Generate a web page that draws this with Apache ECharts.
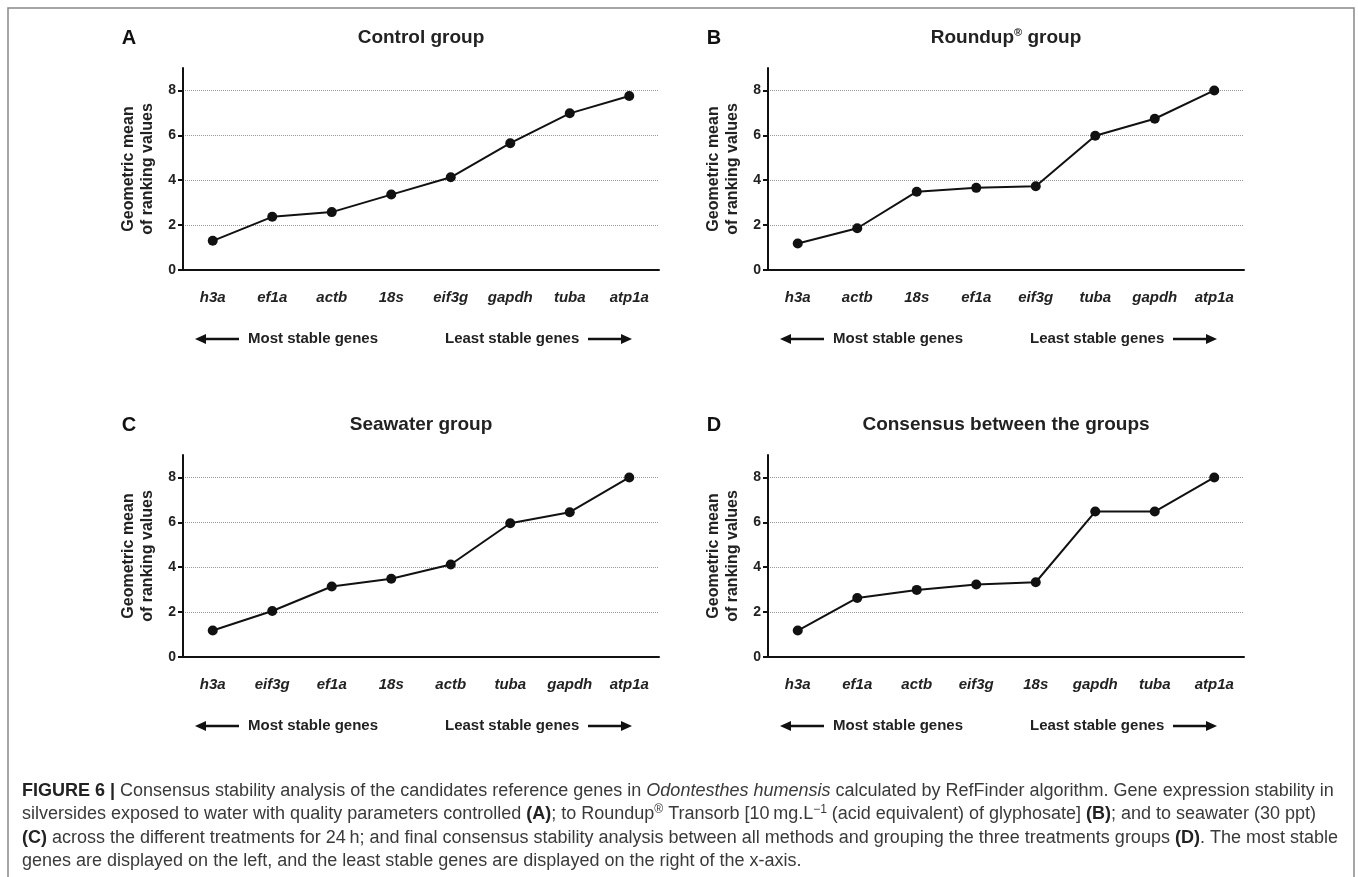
<!DOCTYPE html>
<html>
<head>
<meta charset="utf-8">
<script src="https://cdn.jsdelivr.net/npm/echarts@6/dist/echarts.min.js"></script>
<style>
  html, body { margin: 0; padding: 0; background: #fff; }
  #chart { width: 1358px; height: 877px; }
</style>
</head>
<body>
<div id="chart"></div>
<script>
// ---- data ----
const panelLetters = ['A', 'B', 'C', 'D'];
const panelTitles = ['Control group', 'Roundup{sup|®} group', 'Seawater group', 'Consensus between the groups'];
const genesA = ['h3a', 'ef1a', 'actb', '18s', 'eif3g', 'gapdh', 'tuba', 'atp1a'];
const valuesA = [1.30, 2.37, 2.58, 3.36, 4.13, 5.65, 6.98, 7.75];
const genesB = ['h3a', 'actb', '18s', 'ef1a', 'eif3g', 'tuba', 'gapdh', 'atp1a'];
const valuesB = [1.18, 1.86, 3.49, 3.66, 3.73, 5.98, 6.74, 8.00];
const genesC = ['h3a', 'eif3g', 'ef1a', '18s', 'actb', 'tuba', 'gapdh', 'atp1a'];
const valuesC = [1.18, 2.05, 3.14, 3.49, 4.12, 5.96, 6.45, 8.00];
const genesD = ['h3a', 'ef1a', 'actb', 'eif3g', '18s', 'gapdh', 'tuba', 'atp1a'];
const valuesD = [1.18, 2.63, 2.99, 3.23, 3.33, 6.48, 6.48, 8.00];
const yTicks = [0, 2, 4, 6, 8];
const yMax = 9;
const yAxisName = 'Geometric mean\nof ranking values';
const leftNote = 'Most stable genes';
const rightNote = 'Least stable genes';
const captionLines = [
  '{b|FIGURE 6 | }Consensus stability analysis of the candidates reference genes in {i|Odontesthes humensis} calculated by RefFinder algorithm. Gene expression stability in',
  'silversides exposed to water with quality parameters controlled {b|(A)}; to Roundup{sup|®} Transorb [10\u2009mg.L{sup|\u22121} (acid equivalent) of glyphosate] {b|(B)}; and to seawater (30 ppt)',
  '{b|(C)} across the different treatments for 24\u2009h; and final consensus stability analysis between all methods and grouping the three treatments groups {b|(D)}. The most stable',
  'genes are displayed on the left, and the least stable genes are displayed on the right of the x-axis.'
];

const genesList = [genesA, genesB, genesC, genesD];
const valuesList = [valuesA, valuesB, valuesC, valuesD];

// ---- layout ----
const FONT = "'Liberation Sans', Arial, Helvetica, sans-serif";
const gridLefts = [183, 768, 183, 768];
const gridTops = [68, 68, 455, 455];
const GW = 476, GH = 202;

const chart = echarts.init(document.getElementById('chart'), null, { renderer: 'canvas' });

const grids = [], xAxes = [], yAxes = [], series = [];
for (let i = 0; i < 4; i++) {
  grids.push({ left: gridLefts[i], top: gridTops[i], width: GW, height: GH, containLabel: false });
  xAxes.push({
    type: 'category', gridIndex: i, data: genesList[i], boundaryGap: true,
    axisLine: { lineStyle: { color: '#111', width: 2 } },
    axisTick: { alignWithLabel: true, length: 6, lineStyle: { color: '#111', width: 2 } },
    axisLabel: { color: '#222', fontFamily: FONT, fontSize: 15, fontWeight: 'bold', fontStyle: 'italic', margin: 20 },
    splitLine: { show: false }
  });
  yAxes.push({
    type: 'value', gridIndex: i, min: 0, max: yMax, interval: 2,
    name: yAxisName, nameLocation: 'middle', nameRotate: 90, nameGap: 26,
    nameTextStyle: { color: '#222', fontFamily: FONT, fontSize: 16, fontWeight: 'bold', lineHeight: 19 },
    axisLine: { show: true, lineStyle: { color: '#111', width: 2 } },
    axisTick: { show: true, length: 5, customValues: yTicks, lineStyle: { color: '#111', width: 2 } },
    axisLabel: { customValues: yTicks, color: '#222', fontFamily: FONT, fontSize: 14, fontWeight: 'bold', margin: 7 },
    splitLine: { show: true, showMinLine: false, showMaxLine: true, lineStyle: { color: '#999', type: 'dotted', width: 1 } }
  });
  series.push({
    type: 'line', xAxisIndex: i, yAxisIndex: i, data: valuesList[i],
    symbol: 'circle', symbolSize: 10, showSymbol: true,
    lineStyle: { color: '#111', width: 2 },
    itemStyle: { color: '#111' },
    emphasis: { disabled: true }, animation: false
  });
}

// ---- graphic decorations ----
const graphics = [];
graphics.push({ type: 'rect', shape: { x: 8, y: 8, width: 1346, height: 900 }, style: { fill: 'none', stroke: '#888', lineWidth: 1.5 }, silent: true });

const letterX = [129, 714, 129, 714];
const rowY = [38, 425];
for (let i = 0; i < 4; i++) {
  const ty = rowY[i < 2 ? 0 : 1];
  graphics.push({ type: 'text', x: letterX[i], y: ty, style: { text: panelLetters[i], fontFamily: FONT, fontSize: 20, fontWeight: 'bold', fill: '#111', align: 'center', verticalAlign: 'middle' } });
  graphics.push({ type: 'text', x: gridLefts[i] + GW / 2, y: ty, style: {
    text: panelTitles[i], fontFamily: FONT, fontSize: 19, fontWeight: 'bold', fill: '#222', align: 'center', verticalAlign: 'middle', lineHeight: 22,
    rich: { sup: { fontFamily: FONT, fontSize: 11, fontWeight: 'bold', fill: '#222', verticalAlign: 'top', lineHeight: 22 } }
  } });
  // arrows row
  const dx = gridLefts[i] - 183;
  const ay = gridTops[i] + GH + 69;
  graphics.push({ type: 'line', shape: { x1: dx + 204, y1: ay, x2: dx + 239, y2: ay }, style: { stroke: '#111', lineWidth: 2.5 } });
  graphics.push({ type: 'polygon', shape: { points: [[dx + 195, ay], [dx + 206, ay - 5], [dx + 206, ay + 5]] }, style: { fill: '#111' } });
  graphics.push({ type: 'text', x: dx + 248, y: ay, style: { text: leftNote, fontFamily: FONT, fontSize: 15, fontWeight: 'bold', fill: '#222', align: 'left', verticalAlign: 'middle' } });
  graphics.push({ type: 'text', x: dx + 445, y: ay, style: { text: rightNote, fontFamily: FONT, fontSize: 15, fontWeight: 'bold', fill: '#222', align: 'left', verticalAlign: 'middle' } });
  graphics.push({ type: 'line', shape: { x1: dx + 588, y1: ay, x2: dx + 623, y2: ay }, style: { stroke: '#111', lineWidth: 2.5 } });
  graphics.push({ type: 'polygon', shape: { points: [[dx + 632, ay], [dx + 621, ay - 5], [dx + 621, ay + 5]] }, style: { fill: '#111' } });
}

const capY = [791, 814.5, 838, 861.5];
for (let k = 0; k < captionLines.length; k++) {
  graphics.push({ type: 'text', x: 22, y: capY[k], style: {
    text: captionLines[k], fontFamily: FONT, fontSize: 18, fill: '#3a3a3a', align: 'left', verticalAlign: 'middle', lineHeight: 22,
    rich: {
      b: { fontFamily: FONT, fontSize: 18, fontWeight: 'bold', fill: '#222', lineHeight: 22 },
      i: { fontFamily: FONT, fontSize: 18, fontStyle: 'italic', fill: '#3a3a3a', lineHeight: 22 },
      sup: { fontFamily: FONT, fontSize: 12, fill: '#3a3a3a', verticalAlign: 'top', lineHeight: 22 }
    }
  } });
}

chart.setOption({
  backgroundColor: '#fff',
  animation: false,
  grid: grids,
  xAxis: xAxes,
  yAxis: yAxes,
  series: series,
  graphic: graphics
});
</script>
</body>
</html>
